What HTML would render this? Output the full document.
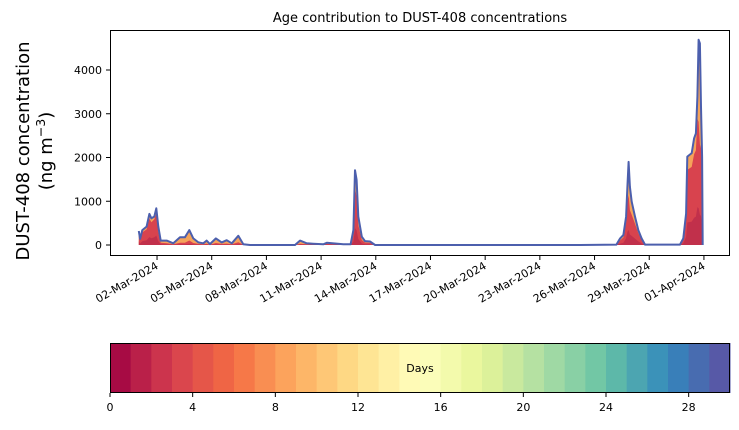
<!DOCTYPE html>
<html><head><meta charset="utf-8">
<style>
body{margin:0;background:#fff;}
svg text{font-family:"DejaVu Sans","Liberation Sans",sans-serif;fill:#000;}
</style></head>
<body>
<svg id="chart" width="739" height="425" viewBox="0 0 739 425" xmlns="http://www.w3.org/2000/svg">
<text x="420" y="22" font-size="13" text-anchor="middle">Age contribution to DUST-408 concentrations</text>
<g font-size="18" text-anchor="middle">
<text transform="translate(29,151) rotate(-90)">DUST-408 concentration</text>
<text transform="translate(52,151) rotate(-90)">(ng m<tspan font-size="12.5" dy="-7">−3</tspan><tspan dy="7">)</tspan></text>
</g>
<g id="plot"></g>
<rect x="110.5" y="30.5" width="619" height="225" fill="none" stroke="#000" stroke-width="1"/>
<g id="axes"></g>
<g id="cbar"></g>
</svg>
<script>
// ---- data ----
const days = [0,0.07,0.19,0.43,0.58,0.69,0.85,0.96,1.07,1.2,1.53,1.89,2.26,2.53,2.77,2.99,3.27,3.54,3.72,3.9,4.23,4.55,4.82,5.1,5.46,5.73,6.1,8.57,8.84,9.21,9.57,10.12,10.31,11.22,11.62,11.77,11.86,11.95,12.04,12.23,12.41,12.68,12.96,24.2,26.2,26.4,26.58,26.73,26.8,26.87,26.94,27.04,27.22,27.4,27.58,27.77,29.69,29.87,30.02,30.09,30.33,30.46,30.56,30.64,30.71,30.78,30.84,30.9,30.93];
const totals = [320,140,340,420,710,610,650,840,420,100,100,40,175,175,340,150,60,40,100,20,150,60,110,40,210,15,0,0,100,40,30,15,50,15,15,340,1710,1490,650,190,90,80,0,0,10,150,230,650,1330,1900,1330,990,650,340,150,10,10,150,720,2020,2100,2440,2550,3390,4690,4610,3160,2020,0];
const youngShare = [0.9,0.8,0.85,0.85,0.85,0.85,0.9,0.85,0.7,0.5,0.4,0.4,0.3,0.3,0.3,0.3,0.4,0.4,0.3,0.4,0.3,0.4,0.3,0.4,0.3,0.4,0.5,0.5,0.3,0.4,0.5,0.6,0.6,0.6,0.6,0.7,0.75,0.75,0.7,0.6,0.6,0.6,0.6,0.6,0.6,0.7,0.75,0.8,0.75,0.6,0.6,0.7,0.75,0.8,0.8,0.8,0.8,0.8,0.85,0.85,0.85,0.85,0.85,0.85,0.6,0.5,0.7,0.8,0.8];
const yTicks = [0,1000,2000,3000,4000];
const xTickDays = [1,4,7,10,13,16,19,22,25,28,31];
const xTickLabels = ["02-Mar-2024","05-Mar-2024","08-Mar-2024","11-Mar-2024","14-Mar-2024","17-Mar-2024","20-Mar-2024","23-Mar-2024","26-Mar-2024","29-Mar-2024","01-Apr-2024"];
const cbarTicks = [0,4,8,12,16,20,24,28];

// ---- scales ----
const NS="http://www.w3.org/2000/svg";
const xs = d => 138.8 + d*18.23;
const ys = v => 245 - v*0.04375;
const cx = d => 110 + d*(620/30);
function mk(tag, attrs, parent){const e=document.createElementNS(NS,tag);for(const k in attrs)e.setAttribute(k,attrs[k]);parent.appendChild(e);return e;}
const plot=document.getElementById('plot'), axes=document.getElementById('axes'), cbar=document.getElementById('cbar');

const spec=["#9e0142","#d53e4f","#f46d43","#fdae61","#fee08b","#ffffbf","#e6f598","#abdda4","#66c2a5","#3288bd","#5e4fa2"];
function hex(h){return [1,3,5].map(i=>parseInt(h.substr(i,2),16));}
function spectral(t){const p=t*10,i=Math.min(9,Math.floor(p)),f=p-i;const a=hex(spec[i]),b=hex(spec[i+1]);return 'rgb('+a.map((v,k)=>Math.round(v+(b[k]-v)*f)).join(',')+')';}

function areaPath(vals){let d='M'+xs(days[0])+','+ys(0);days.forEach((t,i)=>d+=' L'+xs(t).toFixed(1)+','+ys(vals[i]).toFixed(1));d+=' L'+xs(days[days.length-1])+','+ys(0)+' Z';return d;}
const a1=mk('path',{d:areaPath(totals),fill:'#f5a35a'},plot);


const a2=mk('path',{d:areaPath(totals.map((v,i)=>v*youngShare[i])),fill:'#d8434e'},plot);


const a3=mk('path',{d:areaPath(totals.map((v,i)=>v*youngShare[i]*0.3)),fill:'#b3254a',opacity:0.6},plot);


let ld='';days.forEach((t,i)=>ld+=(i?' L':'M')+xs(t).toFixed(1)+','+ys(totals[i]).toFixed(1));
const ln=mk('path',{d:ld,fill:'none',stroke:'#4c5fad','stroke-width':2,'stroke-linejoin':'round'},plot);



yTicks.forEach(v=>{
  const y=ys(v);
  const t=mk('line',{x1:106,x2:110,y1:y,y2:y,stroke:'#000'},axes);
  
  
  const l=mk('text',{x:102,y:y+4,'font-size':11,'text-anchor':'end'},axes);l.textContent=v;
  
  
});
xTickDays.forEach((d,i)=>{
  const x=xs(d);
  const t=mk('line',{x1:x,x2:x,y1:256,y2:260,stroke:'#000'},axes);
  
  
  const l=mk('text',{transform:'translate('+(x+2)+',268) rotate(-30)','font-size':11,'text-anchor':'end'},axes);l.textContent=xTickLabels[i];
  
  
});

for(let i=0;i<30;i++){
  const r=mk('rect',{x:cx(i),y:343,width:cx(i+1)-cx(i)+0.5,height:50,fill:spectral((i+0.5)/30)},cbar);
  
  
}
const fr=mk('rect',{x:110.5,y:343.5,width:619,height:49,fill:'none',stroke:'#000'},cbar);


const lab=mk('text',{x:420,y:372,'font-size':11,'text-anchor':'middle'},cbar);lab.textContent='Days';


cbarTicks.forEach(v=>{
  const x=cx(v);
  const t=mk('line',{x1:x,x2:x,y1:393,y2:397,stroke:'#000'},cbar);
  
  
  const l=mk('text',{x:x,y:411,'font-size':11,'text-anchor':'middle'},cbar);l.textContent=v;
  
  
});
</script>
</body></html>
